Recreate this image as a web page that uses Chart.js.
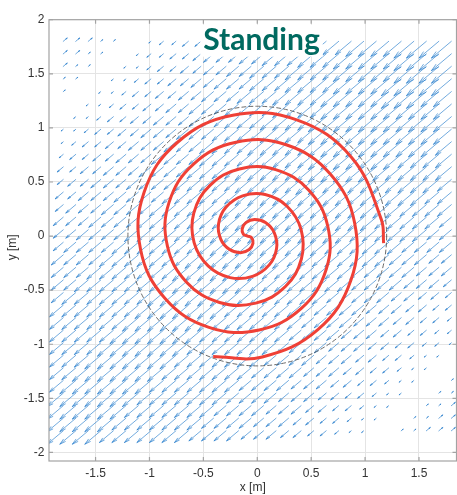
<!DOCTYPE html>
<html>
<head>
<meta charset="utf-8">
<script src="https://cdn.jsdelivr.net/npm/chart.js@4.4.1/dist/chart.umd.min.js"></script>
<style>
  html, body { margin: 0; padding: 0; background: #ffffff; }
  canvas { display: block; }
</style>
</head>
<body>
<canvas id="chart" width="457" height="495"></canvas>
<script>
// Axis ticks and labels
const xTicks = [-1.5, -1, -0.5, 0, 0.5, 1, 1.5];
const xTickLabels = ['-1.5', '-1', '-0.5', '0', '0.5', '1', '1.5'];
const yTicks = [-2, -1.5, -1, -0.5, 0, 0.5, 1, 1.5, 2];
const yTickLabels = ['-2', '-1.5', '-1', '-0.5', '0', '0.5', '1', '1.5', '2'];
const xLimits = [-1.932, 1.848];
const yLimits = [-2.079, 2.0];

// Sample grid of the velocity field (columns left to right, rows top to bottom)
const xGrid = [-1.800, -1.684, -1.568, -1.452, -1.335, -1.219, -1.103, -0.987, -0.871, -0.755, -0.639,
  -0.523, -0.406, -0.290, -0.174, -0.058, 0.058, 0.174, 0.290, 0.406, 0.523, 0.639, 0.755,
  0.871, 0.987, 1.103, 1.219, 1.335, 1.452, 1.568, 1.684, 1.800];
const yGrid = [1.800, 1.684, 1.568, 1.452, 1.335, 1.219, 1.103, 0.987, 0.871, 0.755, 0.639,
  0.523, 0.406, 0.290, 0.174, 0.058, -0.058, -0.174, -0.290, -0.406, -0.523, -0.639, -0.755,
  -0.871, -0.987, -1.103, -1.219, -1.335, -1.452, -1.568, -1.684, -1.800];

// Signed arrow length per grid cell, one string per row.
// 'b' = -2, 'a' = -1, '0'..'9', 'A' = 10 (negative = pointing the other way)
const magnitudeRows = [
  "bbbaa00122334556667778889999AAAA",
  "bbaa001223345556677788899999AAAA",
  "baa0011233445566777888899999AAAA",
  "aa0011233445566677788889999AAAAA",
  "a00112334455666777888899999AAA99",
  "00112334455666777788889999999999",
  "01123344555666777888899999999999",
  "11233445556667777888899999999999",
  "12334455566677778888899999999998",
  "23344555666677778888899999998888",
  "33445556666777788888999999888888",
  "34455566667777788888998888888887",
  "44555666677777788888888888888877",
  "45556666777777888888888888887777",
  "55566667777777888888888888777776",
  "55666677777778888888888877777766",
  "56666777777788888888887777776666",
  "66667777777888888887777777766655",
  "66677777778888888777777776666555",
  "66777777788888887777777766665554",
  "67777777888888877777776666655443",
  "77777778888888777777766665554433",
  "77777788888887777777666655544332",
  "77777888888877777776666555443322",
  "77778888888777777766665554433221",
  "77788888887777777666655544332110",
  "77888888877777776666555443321100",
  "7888888877777776666555443321100a",
  "888888877777776666555443321100aa",
  "88888877777776666555443321100aab",
  "8888877777776666555443321100aabb",
  "888877777776666555443321100aabbb"
];
const levelChars = 'ba0123456789A';
const arrowUnit = 0.024;       // data units per magnitude level
const arrowAngleDeg = 220;     // flow direction for positive levels

// Reference circle
const circleCenter = [0, 0];
const circleRadius = 1.2;

// Spiral path (x, y in metres)
const spiralX = [-0.409, 0.047, 0.562, 0.869, 0.903, 0.675, 0.268, -0.197, -0.591, -0.819,
  -0.834, -0.656, -0.350, -0.014, 0.261, 0.409, 0.406, 0.276, 0.073, -0.136,
  -0.291, -0.359, -0.338, -0.256, -0.155, -0.075, -0.040, -0.052, -0.090, -0.128,
  -0.140, -0.105, -0.025, 0.076, 0.158, 0.179, 0.111, -0.044, -0.253, -0.456,
  -0.586, -0.589, -0.441, -0.166, 0.170, 0.476, 0.654, 0.639, 0.411, 0.017,
  -0.448, -0.855, -1.083, -1.049, -0.742, -0.227, 0.366, 0.875, 1.151, 1.172];
const spiralY = [-1.112, -1.117, -0.865, -0.407, 0.122, 0.577, 0.844, 0.868, 0.666, 0.309,
  -0.091, -0.426, -0.614, -0.620, -0.466, -0.212, 0.061, 0.276, 0.384, 0.372,
  0.266, 0.114, -0.030, -0.125, -0.153, -0.124, -0.067, -0.016, 0.000, 0.016,
  0.067, 0.124, 0.153, 0.125, 0.030, -0.114, -0.266, -0.372, -0.384, -0.276,
  -0.061, 0.212, 0.466, 0.620, 0.614, 0.426, 0.091, -0.309, -0.666, -0.868,
  -0.844, -0.577, -0.122, 0.407, 0.865, 1.117, 1.074, 0.727, 0.152, -0.066];

const titleText = 'Standing';
const xLabel = 'x [m]';
const yLabel = 'y [m]';

const axisColor = '#a3a3a3';
const labelColor = '#333333';
const tickFont = { family: 'Liberation Sans, Arial, sans-serif', size: 12 };

// Quiver arrows and the dashed circle, drawn under the spiral
const fieldPlugin = {
  id: 'field',
  beforeDatasetsDraw(chart) {
    const { ctx, chartArea: a, scales: { x, y } } = chart;
    ctx.save();
    ctx.beginPath();
    ctx.rect(a.left, a.top, a.right - a.left, a.bottom - a.top);
    ctx.clip();

    const ang = arrowAngleDeg * Math.PI / 180;
    const ux = Math.cos(ang), uy = Math.sin(ang);
    const alpha = 0.28, beta = 0.26;
    ctx.strokeStyle = 'rgba(38, 125, 203, 0.86)';
    ctx.lineWidth = 0.75;
    ctx.lineCap = 'round';
    ctx.beginPath();
    magnitudeRows.forEach((row, j) => {
      for (let i = 0; i < row.length && i < xGrid.length; i++) {
        const lvl = levelChars.indexOf(row[i]) - 2;
        if (lvl === 0) continue;
        const len = lvl * arrowUnit;
        const x0 = xGrid[i], y0 = yGrid[j];
        const px0 = x.getPixelForValue(x0), py0 = y.getPixelForValue(y0);
        const px1 = x.getPixelForValue(x0 + len * ux), py1 = y.getPixelForValue(y0 + len * uy);
        const dx = px1 - px0, dy = py1 - py0;
        ctx.moveTo(px0, py0);
        ctx.lineTo(px1, py1);
        ctx.moveTo(px1 - alpha * (dx + beta * dy), py1 - alpha * (dy - beta * dx));
        ctx.lineTo(px1, py1);
        ctx.lineTo(px1 - alpha * (dx - beta * dy), py1 - alpha * (dy + beta * dx));
      }
    });
    ctx.stroke();

    // dashed reference circle
    const cx = x.getPixelForValue(circleCenter[0]);
    const cy = y.getPixelForValue(circleCenter[1]);
    const rx = x.getPixelForValue(circleCenter[0] + circleRadius) - cx;
    const ry = cy - y.getPixelForValue(circleCenter[1] + circleRadius);
    ctx.beginPath();
    ctx.setLineDash([4, 3]);
    ctx.strokeStyle = '#5a5a5a';
    ctx.lineWidth = 0.9;
    ctx.ellipse(cx, cy, rx, ry, 0, 0, Math.PI * 2);
    ctx.stroke();
    ctx.restore();
  },
  afterDatasetsDraw(chart) {
    const { ctx, chartArea: a } = chart;
    ctx.save();
    // title inside the axes on a white patch
    ctx.font = 'bold 30px Lato, sans-serif';
    const w = ctx.measureText(titleText).width;
    const tx = a.left + 212.5;
    const ty = a.top + 30.5;
    ctx.fillStyle = '#ffffff';
    ctx.fillRect(tx - w / 2 - 3, a.top + 5, w + 6, 32);
    ctx.fillStyle = '#006a60';
    ctx.textAlign = 'center';
    ctx.textBaseline = 'alphabetic';
    ctx.fillText(titleText, tx, ty);
    ctx.restore();
  },
  afterDraw(chart) {
    const { ctx, chartArea: a, scales: { x, y } } = chart;
    ctx.save();
    // axes box
    ctx.strokeStyle = axisColor;
    ctx.lineWidth = 1.2;
    ctx.strokeRect(a.left, a.top, a.right - a.left, a.bottom - a.top);
    // inward tick marks
    ctx.beginPath();
    const tl = 4;
    xTicks.forEach(v => {
      const px = x.getPixelForValue(v);
      ctx.moveTo(px, a.bottom); ctx.lineTo(px, a.bottom - tl);
      ctx.moveTo(px, a.top); ctx.lineTo(px, a.top + tl);
    });
    yTicks.forEach(v => {
      const py = y.getPixelForValue(v);
      ctx.moveTo(a.left, py); ctx.lineTo(a.left + tl, py);
      ctx.moveTo(a.right, py); ctx.lineTo(a.right - tl, py);
    });
    ctx.stroke();
    // axis labels
    ctx.fillStyle = labelColor;
    ctx.font = '12px Liberation Sans, Arial, sans-serif';
    ctx.textAlign = 'center';
    ctx.textBaseline = 'middle';
    ctx.fillText(xLabel, (a.left + a.right) / 2, a.bottom + 27);
    ctx.translate(a.left - 36, (a.top + a.bottom) / 2 + 7);
    ctx.rotate(-Math.PI / 2);
    ctx.fillText(yLabel, 0, 0);
    ctx.restore();
  }
};

new Chart(document.getElementById('chart'), {
  type: 'scatter',
  data: {
    datasets: [{
      label: 'path',
      data: spiralX.map((v, k) => ({ x: v, y: spiralY[k] })),
      showLine: true,
      borderColor: '#ef4036',
      borderWidth: 3,
      pointRadius: 0,
      tension: 0.4,
      fill: false
    }]
  },
  options: {
    responsive: false,
    animation: false,
    devicePixelRatio: 1,
    layout: { padding: { top: 19.7, right: 0.5, left: 0, bottom: 0 } },
    plugins: { legend: { display: false }, tooltip: { enabled: false }, title: { display: false } },
    scales: {
      x: {
        type: 'linear',
        min: xLimits[0],
        max: xLimits[1],
        afterBuildTicks: s => { s.ticks = xTicks.map(v => ({ value: v })); },
        afterFit: s => { s.height = 34; },
        ticks: {
          color: labelColor,
          font: tickFont,
          padding: 5,
          maxRotation: 0,
          callback: v => xTickLabels[xTicks.indexOf(v)]
        },
        grid: { color: '#e4e4e4', lineWidth: 1, drawTicks: false },
        border: { display: false }
      },
      y: {
        type: 'linear',
        min: yLimits[0],
        max: yLimits[1],
        afterBuildTicks: s => { s.ticks = yTicks.map(v => ({ value: v })); },
        afterFit: s => { s.width = 49; },
        ticks: {
          color: labelColor,
          font: tickFont,
          padding: 4.5,
          callback: v => yTickLabels[yTicks.indexOf(v)]
        },
        grid: { color: '#e4e4e4', lineWidth: 1, drawTicks: false },
        border: { display: false }
      }
    }
  },
  plugins: [fieldPlugin]
});
</script>
</body>
</html>
